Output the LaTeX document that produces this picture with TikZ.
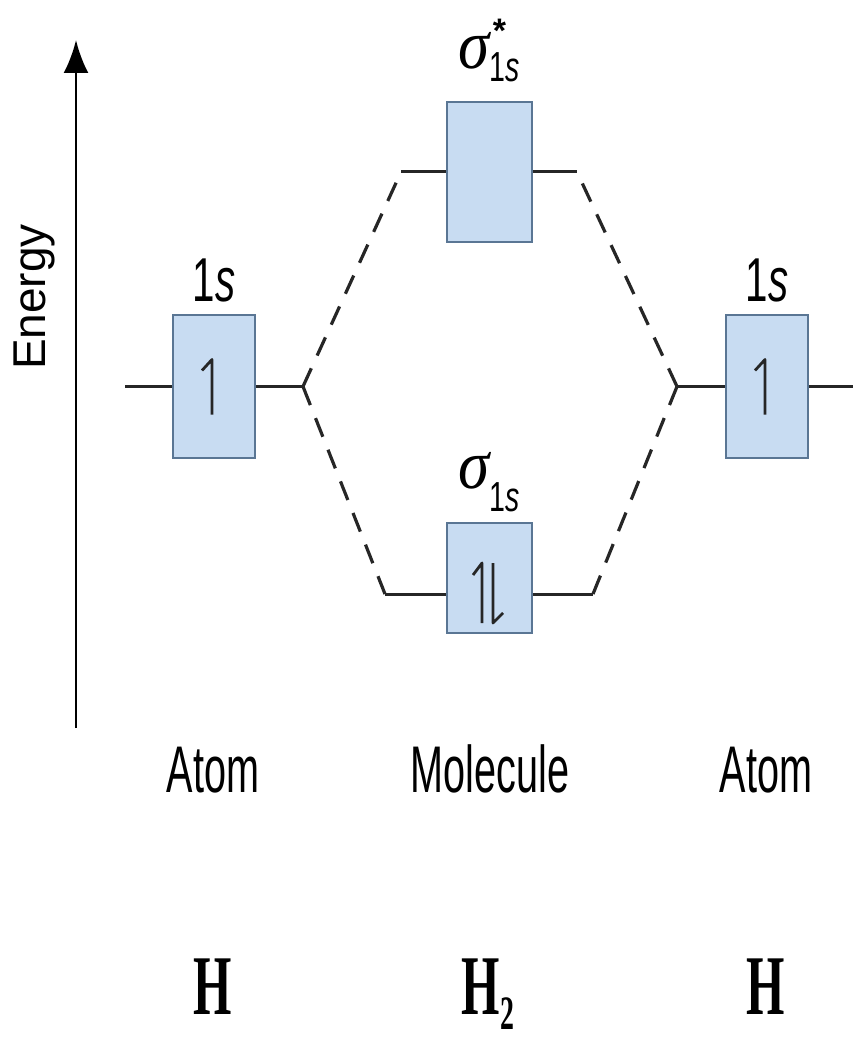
\documentclass[tikz,border=0pt]{standalone}
\usepackage{fontspec}
\setmainfont{Liberation Sans}
\newfontfamily\serifH{Liberation Serif}
\usepackage{graphicx}
\usepackage{tikz}
\usetikzlibrary{positioning,arrows.meta}

\definecolor{orbfill}{RGB}{200,220,242}
\definecolor{orbdraw}{RGB}{90,118,148}
\newcommand{\squeeze}[2][0.62]{\scalebox{#1}[1]{#2}}
\newcommand{\fsz}[1]{\fontsize{#1}{#1}\selectfont}
\newcommand{\sublbl}[1]{\raisebox{-#1}{\squeeze[0.68]{\fsz{42}1\textit{s}}}}

\begin{document}
\begin{tikzpicture}[
  x=1pt, y=-1pt,
  >=Latex,
  node distance=12pt,
  orbital/.style={draw=orbdraw, fill=orbfill, line width=1.8pt, inner sep=0pt,
                  minimum width=82pt, minimum height=143pt},
  level/.style={line width=3pt, draw=black!85},
  corr/.style={line width=3.2pt, draw=black!85, dash pattern=on 20pt off 14pt},
  spin/.style={line width=2.8pt, draw=black!85, line join=round},
  axis/.style={line width=2.8pt, -{Latex[length=33pt,width=25pt]}},
  olabel/.style={inner sep=0pt, font={\fsz{62}}},
  siglabel/.style={inner sep=0pt, font={\fsz{70}}},
  caption/.style={inner sep=0pt, anchor=base, font={\fsz{66}}},
  species/.style={inner sep=0pt, anchor=base, font={\fsz{85}\serifH\bfseries}},
]
\useasboundingbox (0,0) rectangle (853,1040);

% orbitals
\node[orbital] (atomL) at (214,386.5) {};
\node[orbital] (atomR) at (767,386.5) {};
\node[orbital, minimum width=85pt, minimum height=140pt] (antib) at (489.5,172) {};
\node[orbital, minimum width=85pt, minimum height=110pt] (bond) at (489.5,578) {};

% level ends
\coordinate (lvlL) at (125,386.5);
\coordinate (jL) at (303,386.5);
\coordinate (jR) at (677,386.5);
\coordinate (lvlR) at (853,386.5);
\coordinate (aL) at (401,172);
\coordinate (aR) at (577,172);
\coordinate (bL) at (385,594);
\coordinate (bR) at (593,594);

\draw[level] (lvlL) -- (atomL.west);
\draw[level] (atomL.east) -- (jL);
\draw[level] (jR) -- (atomR.west);
\draw[level] (atomR.east) -- (lvlR);
\draw[level] (aL) -- (antib.west);
\draw[level] (antib.east) -- (aR);
\draw[level] (bL) -- (bL -| bond.west);
\draw[level] (bond.east |- bR) -- (bR);

\draw[corr] (jL) -- (aL);
\draw[corr] (jL) -- (bL);
\draw[corr] (jR) -- (aR);
\draw[corr] (jR) -- (bR);

% electrons
\draw[spin] ([shift={(-2pt,-28pt)}]atomL.center) -- ++(0,55pt) -- ++(-10pt,-11pt);
\draw[spin] ([shift={(-2pt,-28pt)}]atomR.center) -- ++(0,55pt) -- ++(-10pt,-11pt);
\draw[spin] ([shift={(-7.5pt,-45pt)}]bond.center) -- ++(0,60pt) -- ++(-9pt,-12pt);
\draw[spin] ([shift={(3.5pt,15pt)}]bond.center) -- ++(0,-60pt) -- ++(10pt,10pt);

% labels
\node[olabel, above=12pt of atomL] (sL) {\squeeze[0.65]{1\textit{s}}};
\node[olabel, above=12pt of atomR] (sR) {\squeeze[0.65]{1\textit{s}}};
\node[siglabel, above=19pt of antib] (antiblbl)
  {\squeeze[0.9]{\serifH\itshape σ}\rlap{\hspace{3pt}\raisebox{26pt}{\fsz{34}\bfseries*}}\sublbl{13pt}};
\node[siglabel, above=10pt of bond] (bondlbl)
  {\squeeze[0.9]{\serifH\itshape σ}\sublbl{23pt}};

\node[caption] (capL) at (213,792) {\squeeze[0.6]{Atom}};
\node[caption] (capM) at (490,792) {\squeeze[0.6]{Molecule}};
\node[caption] (capR) at (766,792) {\squeeze[0.6]{Atom}};

\node[species] (hL) at (213,1014) {\squeeze[0.58]{H}};
\node[species] (hM) at (488,1014) {\squeeze[0.58]{H\raisebox{-15pt}{\fsz{48}2}}};
\node[species] (hR) at (766,1014) {\squeeze[0.58]{H}};

% energy axis
\coordinate (axbot) at (76,728);
\coordinate (axtop) at (76,40);
\draw[axis] (axbot) -- (axtop);
\node[inner sep=0pt, rotate=90, font={\fsz{46}}] (energy) at (34,297) {Energy};
\end{tikzpicture}
\end{document}
